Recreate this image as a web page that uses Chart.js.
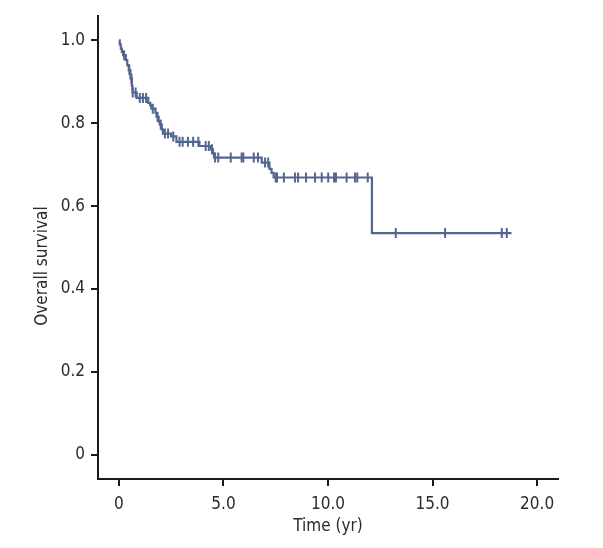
<!DOCTYPE html>
<html>
<head>
<meta charset="utf-8">
<script src="https://cdn.jsdelivr.net/npm/chart.js@4/dist/chart.umd.min.js"></script>
<style>
  html, body { margin: 0; padding: 0; background: #ffffff; }
  #wrap { width: 603px; height: 548px; position: relative; }
</style>
</head>
<body>
<div id="wrap"><canvas id="c" width="603" height="548"></canvas></div>
<script>
// Kaplan-Meier step points (time in years, survival after the event)
const stepTimes = [0, 0.04, 0.09, 0.14, 0.20, 0.33, 0.40, 0.47, 0.55, 0.62, 0.65, 0.85, 1.40, 1.50, 1.55, 1.75, 1.80, 1.90, 1.95, 2.05, 2.10, 2.50, 2.75, 3.85, 4.40, 4.50, 4.55, 6.83, 7.20, 7.30, 7.40, 12.10, 18.78];
const stepSurv  = [1.000, 0.990, 0.980, 0.972, 0.964, 0.952, 0.940, 0.928, 0.908, 0.890, 0.874, 0.861, 0.849, 0.843, 0.835, 0.825, 0.815, 0.805, 0.797, 0.785, 0.775, 0.768, 0.755, 0.745, 0.737, 0.727, 0.717, 0.705, 0.690, 0.680, 0.669, 0.535, 0.535];
// Censored observations (time in years)
const censorTimes = [0.25, 0.50, 0.60, 0.66, 0.80, 1.00, 1.15, 1.30, 1.62, 1.85, 2.00, 2.20, 2.35, 2.60, 2.90, 3.05, 3.30, 3.55, 3.80, 4.15, 4.30, 4.45, 4.60, 4.75, 5.35, 5.87, 5.95, 6.45, 6.65, 6.99, 7.14, 7.50, 7.56, 7.89, 8.42, 8.57, 8.95, 9.38, 9.70, 10.01, 10.29, 10.38, 10.89, 11.29, 11.40, 11.90, 13.24, 15.60, 18.31, 18.55];
const xTickValues = [0, 5, 10, 15, 20];
const xTickLabels = ['0', '5.0', '10.0', '15.0', '20.0'];
const yTickValues = [0, 0.2, 0.4, 0.6, 0.8, 1.0];
const yTickLabels = ['0', '0.2', '0.4', '0.6', '0.8', '1.0'];
const xTitle = 'Time (yr)';
const yTitle = 'Overall survival';

function survAt(t) {
  let s = stepSurv[0];
  for (let i = 0; i < stepTimes.length; i++) {
    if (stepTimes[i] <= t) s = stepSurv[i];
  }
  return s;
}

const curvePoints = stepTimes.map((t, i) => ({ x: t, y: stepSurv[i] }));
const censorPoints = censorTimes.map(t => ({ x: t, y: survAt(t) }));

const FONT = "'DejaVu Sans Condensed', 'Liberation Sans Narrow', sans-serif";
const LINE = '#52668f';
const AXIS = '#1a1a1a';
const TEXT = '#2b2b2b';

// y-axis title drawn at the reference's position (slightly below the axis centre)
const yTitlePlugin = {
  id: 'yTitle',
  afterDraw(chart) {
    const ctx = chart.ctx;
    ctx.save();
    ctx.translate(43, 266);
    ctx.rotate(-Math.PI / 2);
    ctx.fillStyle = TEXT;
    ctx.font = "17px " + FONT;
    ctx.textAlign = 'center';
    ctx.textBaseline = 'middle';
    ctx.fillText(yTitle, 0, 0);
    ctx.restore();
  }
};

new Chart(document.getElementById('c'), {
  type: 'scatter',
  data: {
    datasets: [
      {
        type: 'line',
        data: curvePoints,
        stepped: true,
        borderColor: LINE,
        borderWidth: 2.2,
        pointRadius: 0,
        fill: false,
        order: 2
      },
      {
        type: 'scatter',
        data: censorPoints,
        pointStyle: 'line',
        rotation: 90,
        radius: 5,
        borderColor: LINE,
        backgroundColor: LINE,
        borderWidth: 2,
        order: 1
      }
    ]
  },
  plugins: [yTitlePlugin],
  options: {
    responsive: false,
    animation: false,
    devicePixelRatio: 1,
    layout: { padding: { top: 15, right: 45, bottom: 7, left: 28 } },
    plugins: { legend: { display: false }, tooltip: { enabled: false } },
    scales: {
      x: {
        type: 'linear',
        min: -1,
        max: 21,
        afterBuildTicks: s => { s.ticks = xTickValues.map(v => ({ value: v })); },
        afterFit: s => { s.height = 548 - 479 - 7; },
        border: { display: true, color: AXIS, width: 2 },
        grid: { drawOnChartArea: false, drawTicks: true, tickLength: 7, color: AXIS, lineWidth: 2 },
        ticks: {
          color: TEXT,
          font: { family: FONT, size: 17 },
          padding: 8,
          maxRotation: 0,
          callback: (v) => { const i = xTickValues.indexOf(v); return i >= 0 ? xTickLabels[i] : ''; }
        },
        title: { display: true, text: xTitle, color: TEXT, font: { family: FONT, size: 17 }, padding: { top: 0, bottom: 4 } }
      },
      y: {
        type: 'linear',
        min: -0.058,
        max: 1.058,
        afterBuildTicks: s => { s.ticks = yTickValues.map(v => ({ value: v })); },
        afterFit: s => { s.width = 98 - 28; },
        border: { display: true, color: AXIS, width: 2 },
        grid: { drawOnChartArea: false, drawTicks: true, tickLength: 7, color: AXIS, lineWidth: 2 },
        ticks: {
          color: TEXT,
          font: { family: FONT, size: 17 },
          padding: 6,
          callback: (v) => { const i = yTickValues.findIndex(t => Math.abs(t - v) < 1e-9); return i >= 0 ? yTickLabels[i] : ''; }
        },
        title: { display: false }
      }
    }
  }
});
</script>
</body>
</html>
